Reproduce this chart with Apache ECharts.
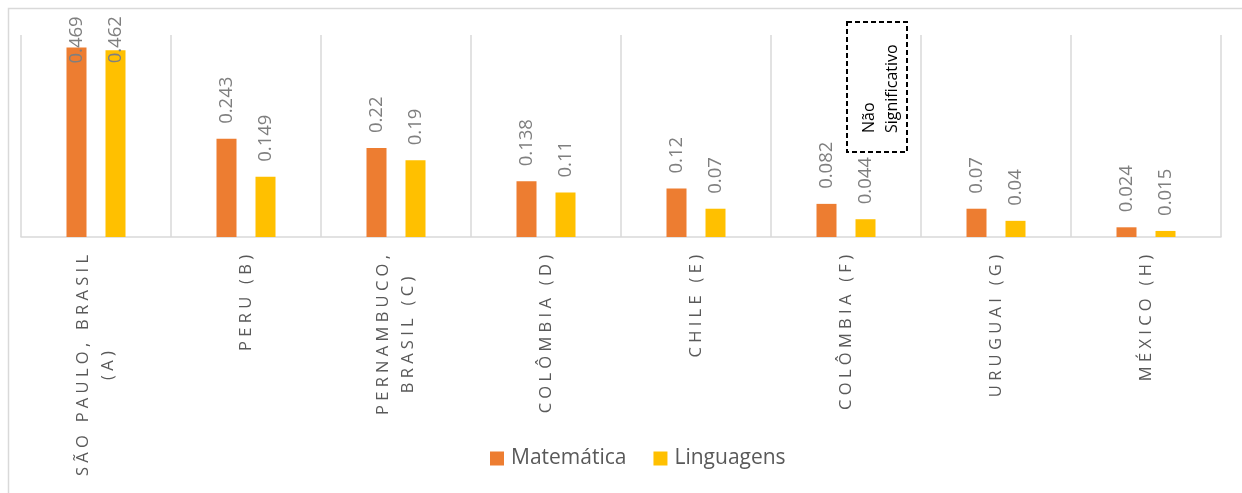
<!DOCTYPE html>
<html>
<head>
<meta charset="utf-8">
<script src="https://cdn.jsdelivr.net/npm/echarts@6/dist/echarts.min.js"></script>
<style>html,body{margin:0;padding:0;background:#fff;}#c{width:1242px;height:493px;}</style>
</head>
<body>
<div id="c"></div>
<script>
var categories = ['SÃO PAULO, BRASIL\n(A)', 'PERU (B)', 'PERNAMBUCO,\nBRASIL (C)', 'COLÔMBIA (D)', 'CHILE (E)', 'COLÔMBIA (F)', 'URUGUAI (G)', 'MÉXICO (H)'];
var matematica = [0.469, 0.243, 0.22, 0.138, 0.12, 0.082, 0.07, 0.024];
var linguagens = [0.462, 0.149, 0.19, 0.11, 0.07, 0.044, 0.04, 0.015];
var seriesNames = ['Matemática', 'Linguagens'];
var annotationText = 'Não\nSignificativo';

function spaced(s) {
  return s.split(' ').map(function (w) { return w.split('').join(' '); }).join('   ');
}

var chart = echarts.init(document.getElementById('c'));
var labelBase = {
  show: true, position: 'top', rotate: 90, distance: 15,
  align: 'left', verticalAlign: 'middle',
  color: '#7f7f7f', fontSize: 18.5, fontFamily: 'Open Sans',
  formatter: function (p) { return String(p.value); }
};
function mkData(arr, firstDist) {
  return arr.map(function (v, i) {
    return i === 0 ? { value: v, label: { distance: firstDist } } : v;
  });
}
chart.setOption({
  animation: false,
  grid: { left: 21, right: 21, top: 35, bottom: 256, containLabel: false },
  legend: {
    data: seriesNames, left: 485, top: 443, icon: 'rect',
    itemWidth: 14, itemHeight: 14, itemGap: 27,
    textStyle: { fontSize: 21, fontFamily: 'Open Sans', color: '#595959', padding: [0, 0, 0, 2] }
  },
  xAxis: {
    type: 'category', data: categories,
    axisLine: { lineStyle: { color: '#d9d9d9', width: 1.5 } },
    axisTick: { show: false },
    splitLine: { show: true, interval: 0, lineStyle: { color: '#d9d9d9', width: 1.5 } },
    axisLabel: {
      interval: 0, rotate: 90, margin: 18,
      formatter: function (v) {
        return v.split('\n').map(function (l) { return '{c|' + spaced(l) + '}'; }).join('\n');
      },
      rich: { c: { align: 'center', fontSize: 16.5, fontFamily: 'Open Sans', color: '#595959', lineHeight: 25 } }
    }
  },
  yAxis: {
    type: 'value', min: 0, max: 0.5,
    axisLine: { show: false }, axisTick: { show: false },
    axisLabel: { show: false }, splitLine: { show: false }
  },
  series: [
    { name: seriesNames[0], type: 'bar', data: mkData(matematica, -16), barWidth: 20, barGap: '95%',
      itemStyle: { color: '#ED7D31' }, label: labelBase },
    { name: seriesNames[1], type: 'bar', data: mkData(linguagens, -13), barWidth: 20, barGap: '95%',
      itemStyle: { color: '#FFC000' }, label: labelBase }
  ],
  graphic: [
    { type: 'rect', shape: { x: 8.5, y: 8.5, width: 1400, height: 700 }, silent: true,
      style: { fill: 'none', stroke: '#d9d9d9', lineWidth: 1.5 } },
    { type: 'rect', shape: { x: 847, y: 22, width: 60, height: 130 },
      style: { fill: 'none', stroke: '#000', lineWidth: 2, lineDash: [5, 3] } },
    { type: 'text', x: 858, y: 133, rotation: Math.PI / 2,
      style: { text: annotationText, fill: '#000', fontSize: 16, fontFamily: 'Open Sans',
        lineHeight: 23, textAlign: 'left', textVerticalAlign: 'top' } }
  ]
});
</script>
</body>
</html>
